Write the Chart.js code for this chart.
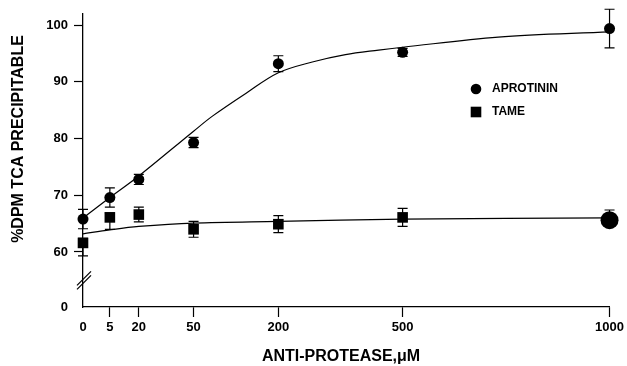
<!DOCTYPE html>
<html>
<head>
<meta charset="utf-8">
<script src="https://cdn.jsdelivr.net/npm/chart.js@4/dist/chart.umd.min.js"></script>
<style>
  body { margin: 0; background: #fff; }
  canvas { display: block; }
</style>
</head>
<body>
<canvas id="chart" width="627" height="366"></canvas>
<script>
// Dados
const doses = [0, 5, 20, 50, 200, 500, 1000];
const aprotinin = [65.8, 69.6, 72.8, 79.3, 93.2, 95.2, 99.4];
const aprotininErr = [1.7, 1.7, 0.9, 0.9, 1.4, 0.7, 3.4];
const tame = [61.6, 66.1, 66.6, 64.0, 64.9, 66.1, 65.6];
const tameErrUp = [0.8, 0.8, 1.3, 1.4, 1.5, 1.6, 1.8];
const tameErrDown = [2.3, 2.1, 1.3, 1.4, 1.5, 1.6, 1.0];

// Curvas ajustadas
const aprotininFitX = [0, 5, 20, 50, 84, 143, 200, 282, 362, 442, 500, 731, 1000];
const aprotininFitY = [66.0, 69.6, 73.4, 81.3, 84.0, 88.0, 91.6, 93.5, 94.8, 95.6, 96.1, 97.9, 98.8];
const tameFitX = [0, 5, 20, 50, 200, 500, 1000];
const tameFitY = [63.2, 63.9, 64.5, 65.1, 65.4, 65.8, 66.0];

const yTicks = [50.3, 60, 70, 80, 90, 100];
const seriesNames = ['APROTININ', 'TAME'];

const FONT = "'Liberation Sans', Arial, Helvetica, sans-serif";

// Eixo x não linear: posição relativa de cada marca
const xStops = [[0, 0], [5, 0.051], [20, 0.106], [50, 0.21], [200, 0.371], [500, 0.607], [1000, 1]];

class PiecewiseScale extends Chart.LinearScale {
    getPixelForValue(value) {
        if (value === null || value === undefined) return NaN;
        let frac = 1;
        for (let i = 1; i < xStops.length; i++) {
            const [v0, f0] = xStops[i - 1];
            const [v1, f1] = xStops[i];
            if (value <= v1) {
                frac = f0 + (value - v0) / (v1 - v0) * (f1 - f0);
                break;
            }
        }
        return this.getPixelForDecimal(frac);
    }
    getValueForPixel(pixel) {
        const frac = this.getDecimalForPixel(pixel);
        for (let i = 1; i < xStops.length; i++) {
            const [v0, f0] = xStops[i - 1];
            const [v1, f1] = xStops[i];
            if (frac <= f1) return v0 + (frac - f0) / (f1 - f0) * (v1 - v0);
        }
        return 1000;
    }
}
PiecewiseScale.id = 'piecewise';
PiecewiseScale.defaults = {};
Chart.register(PiecewiseScale);

// Barras de erro, desenhadas antes dos marcadores
const errorBars = {
    id: 'errorBars',
    beforeDatasetsDraw(chart) {
        const { ctx, scales: { x, y } } = chart;
        ctx.save();
        ctx.strokeStyle = '#000';
        ctx.lineWidth = 1.2;
        const draw = (vals, up, down) => {
            vals.forEach((v, i) => {
                const px = x.getPixelForValue(doses[i]);
                const top = y.getPixelForValue(v + up[i]);
                const bot = y.getPixelForValue(v - down[i]);
                ctx.beginPath();
                ctx.moveTo(px, top); ctx.lineTo(px, bot);
                ctx.moveTo(px - 5, top); ctx.lineTo(px + 5, top);
                ctx.moveTo(px - 5, bot); ctx.lineTo(px + 5, bot);
                ctx.stroke();
            });
        };
        draw(aprotinin, aprotininErr, aprotininErr);
        draw(tame, tameErrUp, tameErrDown);
        ctx.restore();
    }
};

// Quebra do eixo, legenda e títulos
const decorations = {
    id: 'decorations',
    afterDraw(chart) {
        const { ctx, scales: { y } } = chart;
        const ax = chart.chartArea.left;
        ctx.save();
        ctx.strokeStyle = '#000';
        ctx.lineWidth = 1.2;
        const yc = y.getPixelForValue(55);
        [2, -2].forEach(d => {
            ctx.beginPath();
            ctx.moveTo(ax - 6, yc + 7 + d);
            ctx.lineTo(ax + 8, yc - 7 + d);
            ctx.stroke();
        });

        // legenda
        ctx.fillStyle = '#000';
        ctx.beginPath();
        ctx.arc(476, 89, 5.3, 0, Math.PI * 2);
        ctx.fill();
        ctx.fillRect(470.7, 106.7, 10.6, 10.6);
        ctx.font = 'bold 12px ' + FONT;
        ctx.textBaseline = 'middle';
        ctx.textAlign = 'left';
        ctx.fillText(seriesNames[0], 492, 89);
        ctx.fillText(seriesNames[1], 492, 112);

        // títulos dos eixos
        ctx.font = 'bold 16px ' + FONT;
        ctx.textAlign = 'center';
        ctx.fillText('ANTI-PROTEASE,\u03bcM', 341, 357);
        ctx.translate(19, 139);
        ctx.rotate(-Math.PI / 2);
        ctx.fillText('%DPM TCA PRECIPITABLE', 0, 0);
        ctx.restore();
    }
};

const ctx = document.getElementById('chart').getContext('2d');
new Chart(ctx, {
    data: {
        datasets: [{
            type: 'scatter',
            label: seriesNames[0],
            data: doses.map((d, i) => ({ x: d, y: aprotinin[i] })),
            pointStyle: 'circle',
            pointRadius: 5.5,
            backgroundColor: '#000',
            borderColor: '#000',
            borderWidth: 0,
            clip: false
        }, {
            type: 'scatter',
            label: seriesNames[1],
            data: doses.map((d, i) => ({ x: d, y: tame[i] })),
            pointStyle: ['rect', 'rect', 'rect', 'rect', 'rect', 'rect', 'circle'],
            pointRadius: [7.5, 7.5, 7.5, 7.5, 7.5, 7.5, 9],
            backgroundColor: '#000',
            borderColor: '#000',
            borderWidth: 0,
            clip: false
        }, {
            type: 'line',
            data: aprotininFitX.map((d, i) => ({ x: d, y: aprotininFitY[i] })),
            borderColor: '#000',
            borderWidth: 1.2,
            pointRadius: 0,
            tension: 0.35,
            clip: false
        }, {
            type: 'line',
            data: tameFitX.map((d, i) => ({ x: d, y: tameFitY[i] })),
            borderColor: '#000',
            borderWidth: 1.2,
            pointRadius: 0,
            tension: 0.35,
            clip: false
        }]
    },
    options: {
        responsive: false,
        animation: false,
        layout: { padding: { top: 11, right: 15, bottom: 0, left: 0 } },
        plugins: {
            legend: { display: false },
            tooltip: { enabled: false }
        },
        scales: {
            x: {
                type: 'piecewise',
                min: 0,
                max: 1000,
                afterBuildTicks: s => { s.ticks = doses.map(v => ({ value: v })); },
                afterFit: s => { s.height = 59; },
                grid: {
                    drawOnChartArea: false,
                    tickLength: 10,
                    tickWidth: 1.2,
                    tickColor: c => (c.tick && c.tick.value === 0) ? 'rgba(0,0,0,0)' : '#000'
                },
                border: { color: '#000', width: 1.3 },
                ticks: {
                    color: '#000',
                    padding: 3,
                    maxRotation: 0,
                    font: { family: FONT, size: 13, weight: 'bold' },
                    callback: v => String(v)
                }
            },
            y: {
                min: 50.3,
                max: 102,
                afterBuildTicks: s => { s.ticks = yTicks.map(v => ({ value: v })); },
                afterFit: s => { s.width = 83; },
                grid: {
                    drawOnChartArea: false,
                    tickLength: 9,
                    tickWidth: 1.2,
                    tickColor: c => (c.tick && c.tick.value < 55) ? 'rgba(0,0,0,0)' : '#000'
                },
                border: { color: '#000', width: 1.3 },
                ticks: {
                    color: '#000',
                    padding: 6,
                    font: { family: FONT, size: 13, weight: 'bold' },
                    callback: v => v < 55 ? '0' : String(v)
                }
            }
        }
    },
    plugins: [errorBars, decorations]
});
</script>
</body>
</html>
